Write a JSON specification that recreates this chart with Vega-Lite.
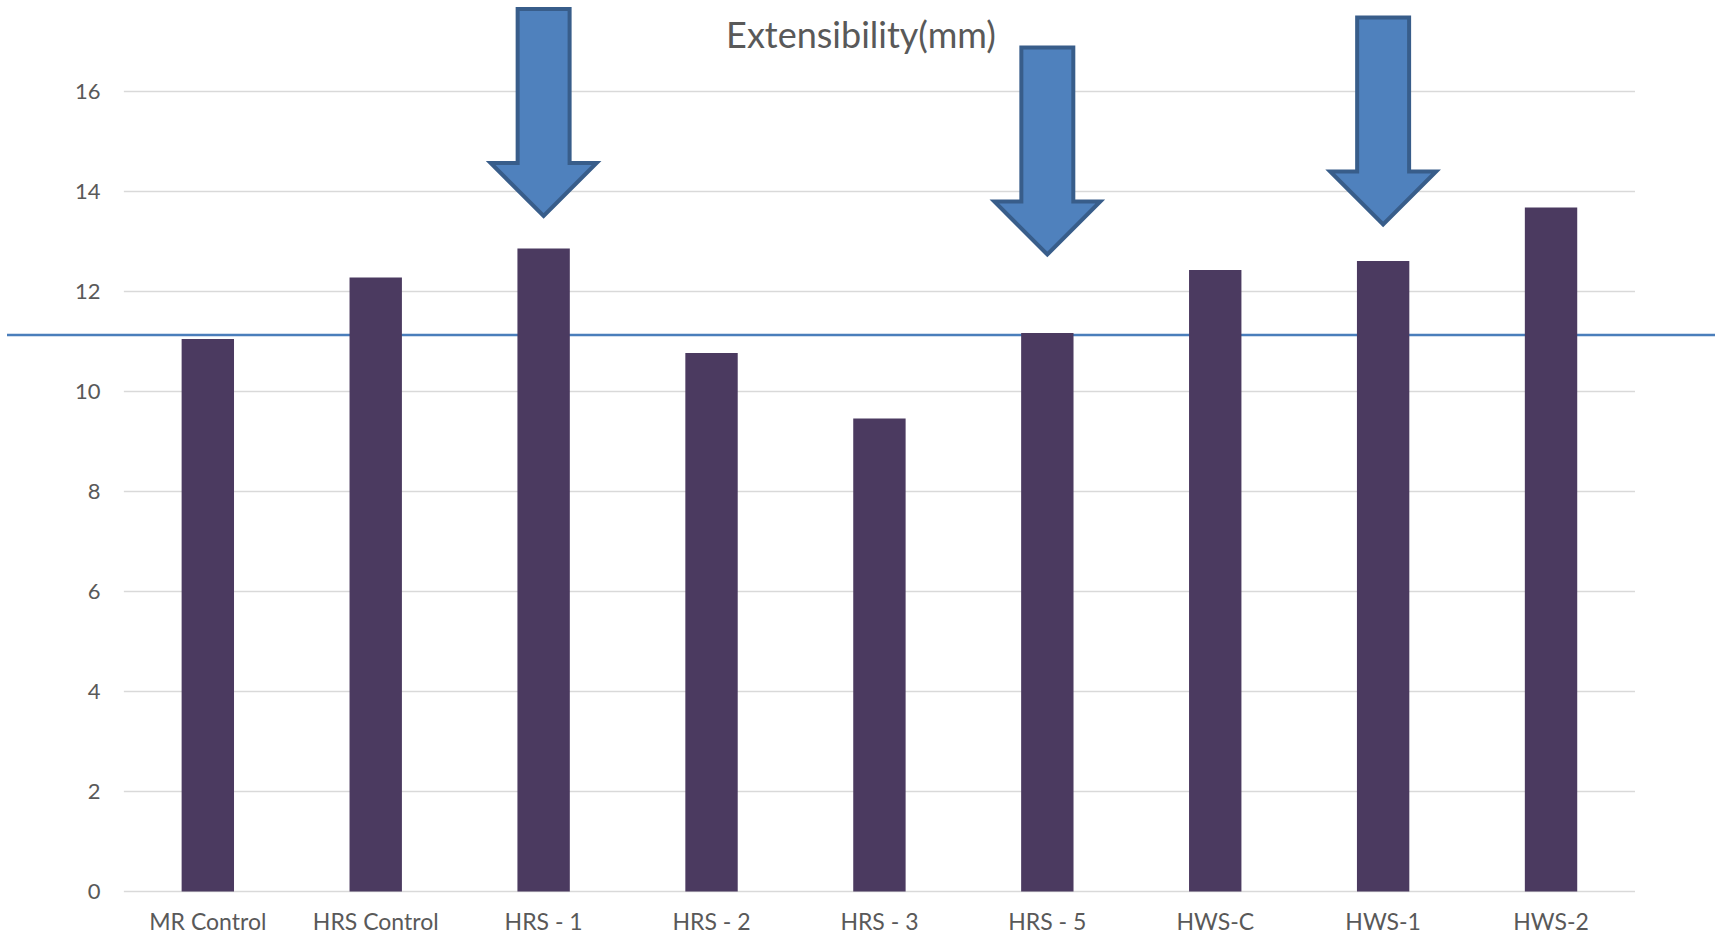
{
  "$schema": "https://vega.github.io/schema/vega-lite/v6.json",
  "autosize": "none",
  "width": 1708,
  "height": 891,
  "padding": {"left": 7, "top": 0.5, "right": 0, "bottom": 44.5},
  "background": "white",
  "config": {
    "view": {"stroke": null},
    "font": "Lato",
    "axis": {
      "grid": false,
      "domain": false,
      "ticks": false,
      "tickSize": 0,
      "labelFont": "Lato",
      "labelFontSize": 22,
      "labelColor": "#595959"
    }
  },
  "title": {
    "text": "Extensibility(mm)",
    "anchor": "middle",
    "frame": "group",
    "orient": "top",
    "baseline": "alphabetic",
    "offset": -83,
    "font": "Lato",
    "fontSize": 36,
    "fontWeight": "normal",
    "color": "#595959"
  },
  "datasets": {
    "extensibility": [
      {"sample": "MR Control", "value": 11.05},
      {"sample": "HRS Control", "value": 12.28},
      {"sample": "HRS - 1", "value": 12.86},
      {"sample": "HRS - 2", "value": 10.77},
      {"sample": "HRS - 3", "value": 9.46},
      {"sample": "HRS - 5", "value": 11.17},
      {"sample": "HWS-C", "value": 12.43},
      {"sample": "HWS-1", "value": 12.61},
      {"sample": "HWS-2", "value": 13.68}
    ],
    "gridlines": [
      {"tick": 0}, {"tick": 2}, {"tick": 4}, {"tick": 6}, {"tick": 8},
      {"tick": 10}, {"tick": 12}, {"tick": 14}, {"tick": 16}
    ],
    "reference": [
      {"level": 11.13}
    ],
    "highlights": [
      {"sample": "HRS - 1", "arrowAt": 15.58},
      {"sample": "HRS - 5", "arrowAt": 14.81},
      {"sample": "HWS-1", "arrowAt": 15.41}
    ]
  },
  "layer": [
    {
      "data": {"name": "gridlines"},
      "mark": {"type": "rule", "color": "#d9d9d9", "strokeWidth": 1.5},
      "encoding": {
        "y": {"field": "tick", "type": "quantitative", "title": null},
        "x": {"datum": "MR Control", "type": "nominal", "bandPosition": 0, "title": null},
        "x2": {"datum": "HWS-2", "bandPosition": 1}
      }
    },
    {
      "data": {"name": "reference"},
      "mark": {"type": "rule", "color": "#4A7EBB", "strokeWidth": 2.5},
      "encoding": {
        "y": {"field": "level", "type": "quantitative", "title": null}
      }
    },
    {
      "data": {"name": "extensibility"},
      "mark": {"type": "bar", "color": "#4B3A60", "width": {"band": 0.312}},
      "encoding": {
        "x": {
          "field": "sample",
          "type": "nominal",
          "title": null,
          "sort": null,
          "scale": {
            "domain": ["MR Control", "HRS Control", "HRS - 1", "HRS - 2", "HRS - 3", "HRS - 5", "HWS-C", "HWS-1", "HWS-2"],
            "paddingInner": 0,
            "paddingOuter": 0.5863,
            "align": 0.5936
          },
          "axis": {"labelAngle": 0, "labelAlign": "center", "labelPadding": 31, "labelBaseline": "middle", "labelFontSize": 23, "title": null}
        },
        "y": {
          "field": "value",
          "type": "quantitative",
          "title": null,
          "scale": {"domain": [0, 17.82], "nice": false, "zero": true},
          "axis": {"values": [0, 2, 4, 6, 8, 10, 12, 14, 16], "offset": -95, "labelPadding": 2, "title": null}
        }
      }
    },
    {
      "data": {"name": "highlights"},
      "mark": {
        "type": "point",
        "shape": "M -0.251 -1 L 0.251 -1 L 0.251 0.488 L 0.512 0.488 L 0 1 L -0.512 0.488 L -0.251 0.488 Z",
        "size": 42849,
        "filled": true,
        "fill": "#4F81BD",
        "stroke": "#385D8A",
        "strokeWidth": 4,
        "strokeJoin": "miter",
        "opacity": 1,
        "fillOpacity": 1
      },
      "encoding": {
        "x": {"field": "sample", "type": "nominal", "title": null},
        "y": {"field": "arrowAt", "type": "quantitative", "title": null}
      }
    }
  ]
}
